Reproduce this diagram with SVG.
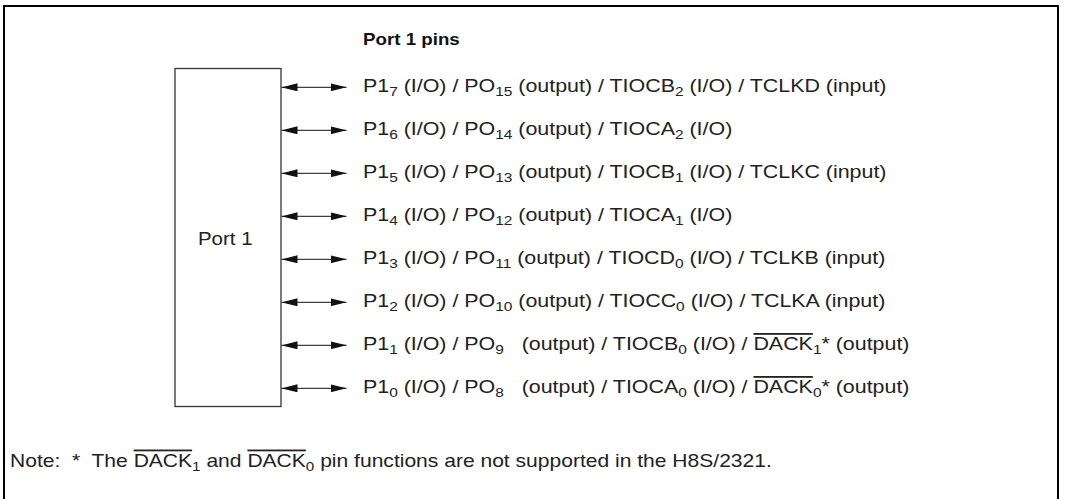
<svg xmlns="http://www.w3.org/2000/svg" width="1073" height="499" viewBox="0 0 1073 499">
<defs>
<style>
.t{font-family:"Liberation Sans",Arial,sans-serif;font-size:18px;fill:#222;white-space:pre;}
.p{font-family:"Liberation Sans",Arial,sans-serif;font-size:17.5px;fill:#222;}
.b{font-family:"Liberation Sans",Arial,sans-serif;font-size:16px;font-weight:bold;fill:#111;}
.s{font-size:13px;}
.o{text-decoration:overline;}
.ar{stroke:#111;stroke-width:1;fill:none;marker-start:url(#ah);marker-end:url(#ah);}
</style>
<marker id="ah" markerUnits="userSpaceOnUse" markerWidth="16" markerHeight="8" refX="16" refY="4" orient="auto-start-reverse">
<path d="M0,0 L16,4 L0,8 z" fill="#111"/>
</marker>
</defs>
<rect x="0" y="0" width="1073" height="499" fill="#fff"/>
<g id="frame"><path d="M4,503 V6 H1058 V503" fill="none" stroke="#000" stroke-width="2"/></g>
<g id="port1">
<rect x="175" y="68.5" width="106" height="338" fill="#fff" stroke="#333" stroke-width="1.3"/>
<g transform="scale(1.17,1)"><text class="p" x="169.2" y="245">Port 1</text></g>
</g>
<g id="connectors">
<path class="ar" d="M281.5,87.3 H346.5"/>
<path class="ar" d="M281.5,130.3 H346.5"/>
<path class="ar" d="M281.5,173.3 H346.5"/>
<path class="ar" d="M281.5,216.3 H346.5"/>
<path class="ar" d="M281.5,259.3 H346.5"/>
<path class="ar" d="M281.5,302.3 H346.5"/>
<path class="ar" d="M281.5,345.3 H346.5"/>
<path class="ar" d="M281.5,388.3 H346.5"/>
</g>
<g id="title" transform="scale(1.17,1)"><text class="b" x="310.3" y="45">Port 1 pins</text></g>
<g id="labels" transform="scale(1.19,1)">
<text class="t" x="305" y="92.3">P1<tspan class="s" dy="4">7</tspan><tspan dy="-4"> (I/O) / PO</tspan><tspan class="s" dy="4">15</tspan><tspan dy="-4"> (output) / TIOCB</tspan><tspan class="s" dy="4">2</tspan><tspan dy="-4"> (I/O) / TCLKD (input)</tspan></text>
<text class="t" x="305" y="135.3">P1<tspan class="s" dy="4">6</tspan><tspan dy="-4"> (I/O) / PO</tspan><tspan class="s" dy="4">14</tspan><tspan dy="-4"> (output) / TIOCA</tspan><tspan class="s" dy="4">2</tspan><tspan dy="-4"> (I/O)</tspan></text>
<text class="t" x="305" y="178.3">P1<tspan class="s" dy="4">5</tspan><tspan dy="-4"> (I/O) / PO</tspan><tspan class="s" dy="4">13</tspan><tspan dy="-4"> (output) / TIOCB</tspan><tspan class="s" dy="4">1</tspan><tspan dy="-4"> (I/O) / TCLKC (input)</tspan></text>
<text class="t" x="305" y="221.3">P1<tspan class="s" dy="4">4</tspan><tspan dy="-4"> (I/O) / PO</tspan><tspan class="s" dy="4">12</tspan><tspan dy="-4"> (output) / TIOCA</tspan><tspan class="s" dy="4">1</tspan><tspan dy="-4"> (I/O)</tspan></text>
<text class="t" x="305" y="264.3">P1<tspan class="s" dy="4">3</tspan><tspan dy="-4"> (I/O) / PO</tspan><tspan class="s" dy="4">11</tspan><tspan dy="-4"> (output) / TIOCD</tspan><tspan class="s" dy="4">0</tspan><tspan dy="-4"> (I/O) / TCLKB (input)</tspan></text>
<text class="t" x="305" y="307.3">P1<tspan class="s" dy="4">2</tspan><tspan dy="-4"> (I/O) / PO</tspan><tspan class="s" dy="4">10</tspan><tspan dy="-4"> (output) / TIOCC</tspan><tspan class="s" dy="4">0</tspan><tspan dy="-4"> (I/O) / TCLKA (input)</tspan></text>
<text class="t" x="305" y="350.3">P1<tspan class="s" dy="4">1</tspan><tspan dy="-4"> (I/O) / PO</tspan><tspan class="s" dy="4">9</tspan><tspan dy="-4">   (output) / TIOCB</tspan><tspan class="s" dy="4">0</tspan><tspan dy="-4"> (I/O) / </tspan><tspan class="o">DACK</tspan><tspan class="s" dy="4">1</tspan><tspan dy="-4">* (output)</tspan></text>
<text class="t" x="305" y="393.3">P1<tspan class="s" dy="4">0</tspan><tspan dy="-4"> (I/O) / PO</tspan><tspan class="s" dy="4">8</tspan><tspan dy="-4">   (output) / TIOCA</tspan><tspan class="s" dy="4">0</tspan><tspan dy="-4"> (I/O) / </tspan><tspan class="o">DACK</tspan><tspan class="s" dy="4">0</tspan><tspan dy="-4">* (output)</tspan></text>
</g>
<g id="note" transform="scale(1.17,1)">
<text class="t" x="8.55" y="467">Note:  *  The <tspan class="o">DACK</tspan><tspan class="s" dy="4">1</tspan><tspan dy="-4"> and </tspan><tspan class="o">DACK</tspan><tspan class="s" dy="4">0</tspan><tspan dy="-4"> pin functions are not supported in the H8S/2321.</tspan></text>
</g>
</svg>
